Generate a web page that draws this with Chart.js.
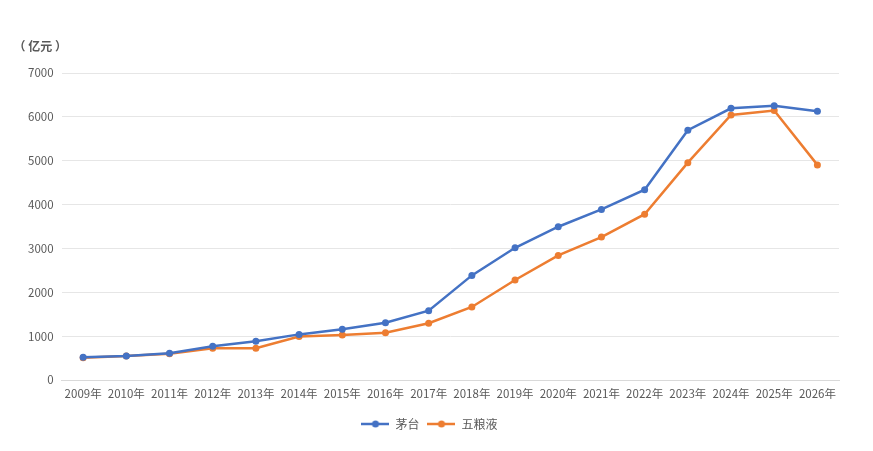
<!DOCTYPE html>
<html>
<head>
<meta charset="utf-8">
<script src="https://cdn.jsdelivr.net/npm/chart.js@4.4.1/dist/chart.umd.min.js"></script>
<style>
  html, body { margin: 0; padding: 0; background: #fff; }
  #wrap { width: 873px; height: 451px; }
</style>
</head>
<body>
<div id="wrap"><canvas id="chart"></canvas></div>
<script>
const years = ["2009年", "2010年", "2011年", "2012年", "2013年", "2014年", "2015年", "2016年", "2017年",
  "2018年", "2019年", "2020年", "2021年", "2022年", "2023年", "2024年", "2025年", "2026年"];
const maotai = [520, 550, 610, 770, 885, 1040, 1155, 1305, 1580, 2385, 3015, 3495, 3890, 4340, 5695, 6195, 6255, 6130];
const wuliangye = [505, 545, 600, 725, 725, 990, 1025, 1080, 1295, 1665, 2280, 2840, 3260, 3780, 4955, 6045, 6145, 4905];
const seriesNames = ["茅台", "五粮液"];
const unitLabel = "（ 亿元 ）";

const FONT = "'Noto Sans CJK SC', 'Noto Sans', sans-serif";
const BLUE = "#4472C4";
const ORANGE = "#ED7D31";
const TEXT = "#595959";

// little line-with-dot marker for the legend
function legendMarker(color) {
  const c = document.createElement("canvas");
  c.width = 28;
  c.height = 10;
  const g = c.getContext("2d");
  g.strokeStyle = color;
  g.lineWidth = 2.5;
  g.beginPath();
  g.moveTo(0, 5);
  g.lineTo(28, 5);
  g.stroke();
  g.fillStyle = color;
  g.beginPath();
  g.arc(14, 5, 3.5, 0, Math.PI * 2);
  g.fill();
  return c;
}

const markers = [legendMarker(BLUE), legendMarker(ORANGE)];

// unit text above the y axis labels
const unitPlugin = {
  id: "unitLabel",
  afterDraw(chart) {
    const ctx = chart.ctx;
    ctx.save();
    ctx.font = "bold 12px " + FONT;
    ctx.fillStyle = TEXT;
    ctx.textBaseline = "middle";
    ctx.fillText(unitLabel, chart.chartArea.left - 48, 46);
    ctx.restore();
  },
};

new Chart(document.getElementById("chart"), {
  type: "line",
  data: {
    labels: years,
    datasets: [
      {
        label: seriesNames[0],
        data: maotai,
        borderColor: BLUE,
        backgroundColor: BLUE,
        borderWidth: 2.5,
        pointRadius: 3.5,
        pointBorderWidth: 0,
        tension: 0,
      },
      {
        label: seriesNames[1],
        data: wuliangye,
        borderColor: ORANGE,
        backgroundColor: ORANGE,
        borderWidth: 2.5,
        pointRadius: 3.5,
        pointBorderWidth: 0,
        tension: 0,
      },
    ],
  },
  plugins: [unitPlugin],
  options: {
    responsive: true,
    maintainAspectRatio: false,
    animation: false,
    layout: { padding: { left: 20, right: 34, top: 73, bottom: 11 } },
    plugins: {
      legend: {
        position: "bottom",
        labels: {
          usePointStyle: true,
          pointStyleWidth: 28,
          boxHeight: 10,
          padding: 8,
          color: TEXT,
          font: { family: FONT, size: 12 },
          generateLabels: (chart) =>
            chart.data.datasets.map((ds, i) => ({
              text: ds.label,
              fillStyle: ds.borderColor,
              strokeStyle: ds.borderColor,
              pointStyle: markers[i],
              fontColor: TEXT,
              datasetIndex: i,
              hidden: false,
            })),
        },
      },
      tooltip: { enabled: false },
    },
    scales: {
      x: {
        offset: true,
        grid: { display: false },
        border: { display: true, color: "#d9d9d9", width: 1 },
        ticks: {
          color: TEXT,
          font: { family: FONT, size: 11.5, lineHeight: 1 },
          maxRotation: 0,
          autoSkip: false,
          padding: 0,
        },
        // leave a gap between the year labels and the legend
        afterFit: (scale) => {
          scale.height = 30;
        },
      },
      y: {
        min: 0,
        max: 7000,
        border: { display: false },
        grid: { color: "#e6e6e6", drawTicks: false },
        ticks: {
          stepSize: 1000,
          color: TEXT,
          font: { family: FONT, size: 11.5 },
          padding: 8,
          callback: (v) => String(v),
        },
      },
    },
  },
});
</script>
</body>
</html>
